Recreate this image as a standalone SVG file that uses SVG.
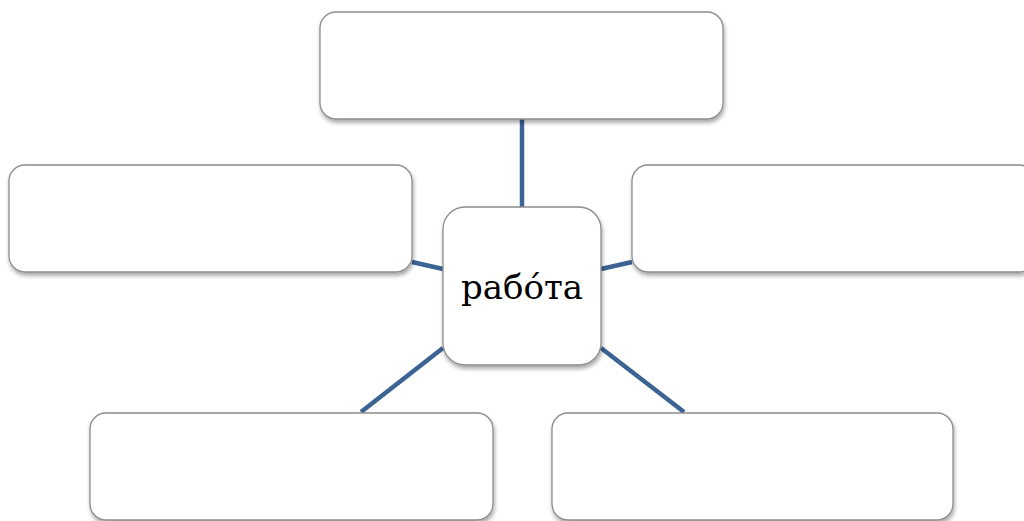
<svg xmlns="http://www.w3.org/2000/svg" width="1024" height="521" viewBox="0 0 1024 521">
<style>
.box{fill:#ffffff;stroke:#8c8c8c;stroke-width:1.3;filter:url(#sh)}
.con{stroke:#3b6394;stroke-width:4.5;fill:none}
.lbl{font-family:"DejaVu Serif","Liberation Serif",serif;font-size:34px;fill:#000;text-anchor:middle}
</style>
<defs>
<filter id="sh" x="-10%" y="-10%" width="125%" height="130%">
<feGaussianBlur in="SourceAlpha" stdDeviation="2"/>
<feOffset dx="1" dy="3" result="b"/>
<feComponentTransfer><feFuncA type="linear" slope="0.35"/></feComponentTransfer>
<feMerge><feMergeNode/><feMergeNode in="SourceGraphic"/></feMerge>
</filter>
</defs>
<g id="connectors">
<line class="con" x1="522" y1="119" x2="522" y2="207"/>
<line class="con" x1="412" y1="262" x2="443" y2="269"/>
<line class="con" x1="601" y1="269" x2="632" y2="262"/>
<line class="con" x1="443" y1="348" x2="361" y2="412"/>
<line class="con" x1="601" y1="348" x2="684" y2="412"/>
</g>
<g id="top"><rect class="box" x="320" y="12" width="403" height="107" rx="16"/></g>
<g id="left"><rect class="box" x="9" y="165" width="403" height="107" rx="16"/></g>
<g id="right"><rect class="box" x="632" y="165" width="403" height="107" rx="16"/></g>
<g id="bottom-left"><rect class="box" x="90" y="413" width="403" height="107" rx="16"/></g>
<g id="bottom-right"><rect class="box" x="552" y="413" width="401" height="107" rx="16"/></g>
<g id="center"><rect class="box" x="443" y="207" width="158" height="158" rx="22"/>
<text class="lbl" x="522" y="299">рабо́та</text></g>
</svg>
